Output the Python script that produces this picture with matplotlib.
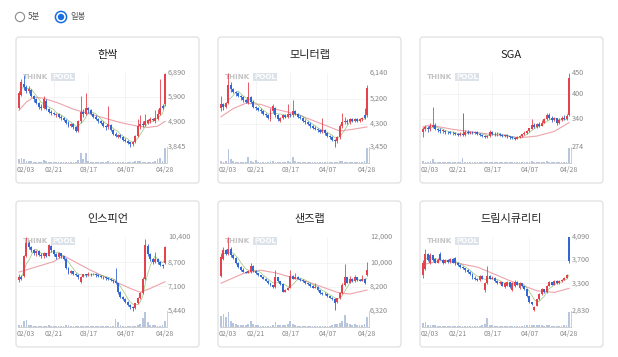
import numpy as np
import pandas as pd
import matplotlib.pyplot as plt
from matplotlib.patches import FancyBboxPatch, Circle
from matplotlib.transforms import blended_transform_factory

plt.rcParams['font.family'] = ['Noto Sans CJK KR', 'DejaVu Sans']

# ---- data ----
names = ['한싹', '모니터랩', 'SGA', '인스피언', '샌즈랩', '드림시큐리티']
date_labels = ['02/03', '02/21', '03/17', '04/07', '04/28']
date_pos = [0, 14, 28, 43, 59]

# 한싹
hansak_open = [5450,6000,6450,6300,6150,6200,5950,5800,5650,5500, 5450,5750,5400,5300,5250,5150,5200,5100,5050,4950,
               4850,4700,4800,4650,4500,4900,5300,5200,5450,5350, 5200,5100,5000,4900,4850,4700,4650,4750,4550,4400,
               4250,4350,4250,4150,4100,4050,3950,4050,4300,4700, 4800,4750,4850,4900,5000,4900,5000,5200,5550,5600]
hansak_close = [6050,6500,6300,6150,6250,5950,5800,5650,5500,5450, 5800,5400,5300,5250,5200,5200,5100,5050,4950,4850,
                4700,4800,4650,4500,4900,5300,5200,5450,5350,5200, 5100,5000,4900,4850,4700,4650,4800,4550,4400,4300,
                4350,4250,4150,4100,4000,3950,4050,4300,4700,4800, 4750,4900,4950,5000,4950,5050,5200,5450,5450,6850]
hansak_high = [6150,6650,6800,6400,6350,6250,6000,5850,5700,5600, 5950,5800,5450,5350,5300,5250,5250,5150,5100,5000,
               4900,4850,4850,4700,4950,5950,5400,6050,5500,5400, 5250,5150,5050,4950,4900,4750,5550,4800,4600,4450,
               4400,4400,4300,4200,4150,4050,4100,4350,5000,5150, 4900,5200,5000,5100,5050,5350,5400,6650,5600,6890]
hansak_low = [5400,5950,6200,6050,6050,5900,5700,5600,5400,5350, 5400,5350,5250,5150,5150,5100,5050,4950,4900,4800,
              4650,4650,4600,4450,4480,4850,5100,5150,5250,5150, 5050,4950,4850,4800,4650,4550,4600,4500,4350,4250,
              4200,4200,4100,4050,3950,3845,3900,4000,4250,4600, 4650,4700,4800,4850,4900,4850,4950,5150,5400,5550]
hansak_vol = [7,8,6,4,3,3,2,2,2,2, 5,3,2,2,2,1,2,1,1,1, 2,1,1,2,5,17,6,16,4,2,
              2,1,1,1,1,1,3,2,1,1, 1,1,1,1,1,2,2,3,4,3, 2,2,1,1,2,3,6,9,4,25]
hansak_ma_x = [0, 3, 6, 10, 16, 22, 27, 34, 41, 47, 52, 56, 59]
hansak_ma_y = [5350, 5700, 5900, 5850, 5650, 5400, 5250, 5050, 4850, 4720, 4650, 4700, 4900]
hansak_ticks = [6890, 5900, 4900, 3845]

# 모니터랩
monitor_open = [4850,5000,4900,5050,5700,5550,5450,5400,5300,5250, 5150,5050,5250,5100,4900,4850,4800,4750,4650,4600,
                4450,4750,4850,4600,4400,4500,4600,4550,4650,4600, 4750,4650,4550,4500,4400,4350,4300,4200,4150,4100,
                4050,4000,4050,3950,3850,3800,3700,3650,3800,4200, 4350,4400,4350,4450,4400,4450,4400,4450,4600,4600]
monitor_close = [5000,4900,5050,5700,5550,5450,5400,5300,5250,5150, 5100,5250,5100,4900,4850,4800,4750,4650,4600,4500,
                 4750,4950,4600,4450,4500,4600,4550,4650,4600,4750, 4650,4550,4500,4400,4350,4300,4200,4150,4100,4050,
                 4000,4050,3950,3850,3800,3700,3650,3800,4200,4350, 4400,4350,4450,4400,4450,4400,4450,4500,4500,5600]
monitor_high = [5300,5050,5100,6140,5800,5600,5500,5450,5350,5300, 5200,5800,5300,5150,4950,4900,4850,4800,4700,4650,
                4850,5000,4900,4650,4550,4650,4650,5000,4700,5150, 4800,4700,4600,4550,4450,4400,4350,4250,4200,4150,
                4100,4500,4100,4000,3900,3850,3750,3850,4300,4700, 4550,4450,4500,4500,4500,4500,4500,4550,4850,5700]
monitor_low = [4750,4800,4850,5000,5450,5400,5300,5250,5150,5100, 5050,5000,5050,4850,4800,4750,4700,4600,4550,4450,
               4400,4700,4550,4400,4350,4450,4500,4500,4550,4550, 4600,4500,4450,4350,4300,4250,4150,4100,4050,4000,
               3950,3950,3900,3800,3750,3650,3450,3600,3750,4150, 4300,4300,4300,4350,4350,4350,4350,4400,4450,4550]
monitor_vol = [3,2,3,22,6,3,2,2,2,1, 2,10,3,2,5,2,1,1,1,1, 3,3,2,1,1,1,1,3,2,10,
               3,2,1,1,1,1,1,1,1,1, 1,2,1,1,1,1,2,2,3,3, 2,1,1,1,1,1,1,1,3,24]
monitor_ma_x = [0, 5, 10, 16, 21, 31, 41, 48, 53, 59]
monitor_ma_y = [4550, 4850, 5040, 5000, 4850, 4630, 4280, 4030, 4090, 4180]
monitor_ticks = [6140, 5200, 4300, 3450]

# SGA
sga_open = [310,318,320,316,322,326,318,314,312,313, 310,309,307,308,305,303,306,302,310,308,
            310,307,309,306,303,300,298,300,310,306, 304,306,303,300,302,299,297,295,294,297,
            300,304,308,312,318,326,322,328,325,332, 340,350,344,338,342,330,338,343,340,350]
sga_close = [318,322,316,324,326,318,314,312,313,310, 309,307,308,305,303,306,302,310,308,310,
             307,309,306,303,300,298,300,310,306,304, 306,303,300,302,299,297,295,294,297,300,
             304,308,312,318,326,322,328,325,332,340, 350,344,338,342,330,338,343,340,348,438]
sga_high = [322,326,324,330,368,330,320,318,316,315, 313,312,311,310,308,310,354,314,314,313,
            312,312,311,308,305,303,302,314,312,309, 309,308,306,305,304,301,299,297,299,302,
            306,311,315,320,340,330,332,334,338,344, 354,356,348,346,344,342,348,350,352,450]
sga_low = [298,312,310,312,318,314,310,308,308,306, 305,304,303,302,300,300,300,300,304,305,
           304,304,302,300,297,295,295,298,303,300, 301,300,298,297,296,294,292,291,292,295,
           298,302,305,310,316,318,320,322,323,330, 338,340,334,336,326,328,335,338,338,348]
sga_vol = [3,2,2,3,8,2,1,1,1,1, 1,1,1,1,1,2,10,2,1,1, 1,1,1,1,1,1,1,2,1,1,
           1,1,1,1,1,1,1,1,1,1, 1,1,2,2,4,2,2,2,2,2, 3,2,2,1,2,1,1,1,2,30]
sga_ma_x = [0, 3, 12, 22, 35, 39, 46, 53, 59]
sga_ma_y = [322, 326, 316, 308, 299, 296, 300, 311, 332]
sga_ticks = [450, 400, 340, 274]

# 인스피언
inspien_open = [7500,7700,7800,9100,10000,9700,9500,9300,9450,9200, 9100,9300,9150,9800,9500,9250,9050,9300,9100,8950,
                8300,8000,8100,7950,7850,7400,7750,7900,7850,7950, 7900,7950,7850,7800,7750,7700,7650,7600,7550,7450,
                7300,6700,6400,6250,6050,5850,5700,5650,5950,6300, 6650,7600,9800,9250,8900,8700,8950,8700,8550,8650]
inspien_close = [7750,7600,9100,10000,9700,9500,9300,9450,9200,9100, 9300,9150,9850,9500,9250,9050,9300,9100,8950,8300,
                 8000,8100,7950,7850,7700,7750,7900,7850,7950,7900, 7950,7850,7800,7750,7700,7650,7600,7550,7450,7300,
                 6700,6400,6250,6050,5850,5700,5650,5950,6300,6650, 7600,9850,9250,8900,8700,8950,8700,8550,8450,9750]
inspien_high = [7900,7850,9200,10400,10100,9800,9600,9550,9500,9300, 9400,9350,9950,9850,9550,9300,9400,9350,9150,9000,
                8400,8200,8150,8000,7900,7800,7950,7950,8050,8000, 8000,8000,7900,7850,7800,7750,7700,7650,7600,8350,
                7350,6750,6450,6300,6100,5900,5750,6000,6350,6700, 7700,10250,9900,9350,9000,9400,9000,8800,8600,9800]
inspien_low = [7400,7500,7750,9050,9600,9400,9200,9150,9100,9000, 9000,9050,9100,9400,9150,8950,9000,9000,8850,8250,
               7900,7900,7850,7800,7600,7300,7700,7750,7800,7800, 7850,7750,7700,7650,7600,7550,7500,7450,7350,7250,
               6600,6300,6150,5950,5750,5600,5440,5600,5900,6250, 6600,7550,9150,8800,8600,8650,8600,8450,8350,8600]
inspien_vol = [4,3,10,12,4,3,2,2,2,1, 2,1,4,2,2,1,1,1,1,4, 3,1,1,1,2,2,1,1,1,1,
               1,1,1,1,1,1,1,1,2,13, 8,3,2,2,1,1,2,2,3,5, 16,26,8,4,3,3,2,2,3,10]
inspien_ma_x = [0, 14, 18, 28, 37, 45, 49, 53, 59]
inspien_ma_y = [8050, 8750, 9150, 8250, 7550, 6950, 6700, 6950, 7400]
inspien_ticks = [10400, 8700, 7100, 5440]

# 샌즈랩
sands_open = [9000,10300,11000,10700,11100,10600,10400,10000,9700,9500, 9350,9250,9300,9800,9400,9200,9050,8950,8800,8650,
              8450,8300,8150,8900,8600,8400,7800,7950,8100,9000, 8800,8950,8800,8700,8600,8450,8400,8250,8100,8200,
              7900,7700,7600,7650,7450,7350,7250,7000,7300,7700, 8300,8900,8500,8800,8600,8900,8700,8650,8800,9050]
sands_close = [10500,11000,10700,11100,10600,10400,10000,9700,9500,9350, 9250,9400,9800,9400,9200,9050,8950,8800,8650,8450,
               8300,8150,8900,8600,8400,7800,7950,8100,9000,8800, 8950,8800,8700,8600,8450,8400,8250,8100,8200,7900,
               7700,7600,7650,7450,7350,7250,6950,7300,7700,8300, 8900,8500,8800,8600,8900,8700,8650,8800,8450,9500]
sands_high = [10750,11200,11100,12000,11200,10700,10450,10050,9750,9600, 9400,9450,10000,9850,9450,9250,9100,9000,8850,8700,
              8500,8350,9500,8950,8650,8450,8000,8150,9500,9050, 9200,9000,8850,8750,8650,8500,8450,8300,8500,8250,
              7950,7750,7750,7700,7500,7400,7300,7350,7750,8500, 9900,8950,9000,8850,9100,8950,8750,9050,8850,10100]
sands_low = [8950,10200,10600,10650,10500,10300,9900,9600,9400,9300, 9200,9200,9250,9350,9150,9000,8900,8750,8600,8400,
             8250,8100,8100,8550,8350,7750,7750,7900,8050,8750, 8750,8750,8650,8550,8400,8350,8200,8050,8050,7850,
             7650,7550,7550,7400,7300,7200,6400,6950,7250,7650, 8250,8450,8450,8550,8550,8650,8600,8600,8400,9000]
sands_vol = [12,14,10,16,6,4,3,2,2,2, 2,3,6,3,2,2,1,1,1,1, 1,2,5,2,2,2,2,3,6,3,
             2,1,1,1,1,1,1,1,1,1, 1,1,1,1,1,2,3,3,4,6, 13,4,3,2,3,2,2,2,3,11]
sands_ma_x = [0, 9, 16, 22, 36, 47, 52, 59]
sands_ma_y = [8450, 9200, 9450, 9250, 8500, 7750, 7620, 7930]
sands_ticks = [12000, 10000, 8200, 6320]

# 드림시큐리티
dream_open = [3450,3550,3800,3650,3780,3720,3650,3800,3700,3650, 3700,3660,3720,3740,3640,3620,3580,3560,3520,3500,
              3460,3400,3380,3350,3420,3180,3300,3420,3380,3400, 3340,3300,3320,3240,3260,3320,3180,3250,3330,3220,
              3300,3250,3200,3080,2980,2850,2920,3030,3120,3200, 3150,3260,3320,3280,3340,3300,3340,3360,3400,4090]
dream_close = [3650,3800,3700,3780,3700,3650,3700,3700,3650,3700, 3660,3720,3650,3640,3620,3580,3560,3520,3500,3460,
               3400,3380,3360,3420,3380,3300,3420,3380,3400,3340, 3300,3320,3260,3300,3320,3240,3300,3330,3280,3300,
               3250,3200,3080,2980,2950,2900,3030,3120,3200,3150, 3260,3320,3280,3340,3300,3340,3360,3400,3440,3680]
dream_high = [3700,3880,3820,3820,3790,3740,3730,3830,3720,3720, 3710,3740,3730,3750,3660,3630,3600,3570,3540,3510,
              3470,3420,3400,3440,3440,3320,3600,3440,3420,3410, 3360,3340,3330,3320,3340,3330,3320,3350,3340,3320,
              3310,3260,3210,3090,2990,2920,3040,3130,3220,3210, 3270,3340,3330,3350,3350,3350,3370,3410,3460,4090]
dream_low = [3400,3520,3680,3630,3680,3640,3640,3690,3630,3640, 3640,3650,3640,3620,3600,3560,3540,3500,3480,3440,
             3380,3360,3340,3340,3370,3150,3290,3370,3370,3330, 3290,3290,3250,3230,3250,3230,3170,3240,3270,3210,
             3240,3190,3070,2970,2930,2830,2910,3020,3110,3140, 3140,3250,3270,3270,3290,3290,3330,3350,3390,3650]
dream_vol = [5,6,3,2,2,2,1,1,1,1, 1,1,1,1,1,1,1,1,1,1, 1,1,1,1,2,4,12,3,2,1,
             1,1,1,1,1,1,1,1,1,1, 1,2,2,3,2,3,2,2,2,1, 2,2,1,1,1,1,1,2,2,20]
dream_ma_x = [0, 8, 22, 35, 46, 53, 59]
dream_ma_y = [3620, 3694, 3578, 3348, 3175, 3146, 3215]
dream_ticks = [4090, 3700, 3300, 2830]

panels = [
    (hansak_open, hansak_close, hansak_high, hansak_low, hansak_vol, hansak_ma_x, hansak_ma_y, hansak_ticks),
    (monitor_open, monitor_close, monitor_high, monitor_low, monitor_vol, monitor_ma_x, monitor_ma_y, monitor_ticks),
    (sga_open, sga_close, sga_high, sga_low, sga_vol, sga_ma_x, sga_ma_y, sga_ticks),
    (inspien_open, inspien_close, inspien_high, inspien_low, inspien_vol, inspien_ma_x, inspien_ma_y, inspien_ticks),
    (sands_open, sands_close, sands_high, sands_low, sands_vol, sands_ma_x, sands_ma_y, sands_ticks),
    (dream_open, dream_close, dream_high, dream_low, dream_vol, dream_ma_x, dream_ma_y, dream_ticks),
]

RED = '#e4424d'
BLUE = '#3067d2'
W, H = 618, 357


def rect(x, y, w, h):
    # pixel box (top-left origin) -> figure fraction
    return [x / W, 1 - (y + h) / H, w / W, h / H]


fig = plt.figure(figsize=(W / 100, H / 100), dpi=100)
bg = fig.add_axes([0, 0, 1, 1])
bg.set_xlim(0, W)
bg.set_ylim(H, 0)
bg.axis('off')

# radio buttons
bg.add_patch(Circle((20, 17), 4.6, fc='white', ec='#8c8c8c', lw=0.8))
bg.text(28, 17, '5분', fontsize=6, color='#555555', va='center', ha='left')
bg.add_patch(Circle((61, 17), 5.6, fc='white', ec='#1a6fe0', lw=1.1))
bg.add_patch(Circle((61, 17), 3.2, fc='#1a6fe0', ec='none'))
bg.text(70, 17, '일봉', fontsize=6, color='#555555', va='center', ha='left')

for k, (name, data) in enumerate(zip(names, panels)):
    o, c, hi_, lo_, vol, ma_x, ma_y, ticks = [np.array(d) for d in data]
    r, col = divmod(k, 3)
    left = 16 + 202 * col
    top = 37 + 164 * r

    bg.add_patch(FancyBboxPatch((left, top), 183, 146, boxstyle='round,pad=0,rounding_size=3',
                                fc='white', ec='#dcdcdc', lw=0.8, zorder=1))
    bg.text(left + 91.5, top + 18, name, fontsize=8, color='#222222', ha='center', va='center', zorder=2)
    # THINKPOOL watermark
    bg.text(left + 7, top + 40, 'THINK', fontsize=5.2, fontweight='bold', color='#c4c4c4',
            family='DejaVu Sans', va='center', ha='left', zorder=2)
    bg.text(left + 36, top + 40, 'POOL', fontsize=5.2, fontweight='bold', color='white',
            family='DejaVu Sans', va='center', ha='left', zorder=2,
            bbox=dict(boxstyle='square,pad=0.2', fc='#dbe2ea', ec='none'))

    lo, hi = ticks[-1], ticks[0]
    idx = np.arange(len(o))

    ax = fig.add_axes(rect(left + 1.5, top + 36, 149, 74))
    ax.set_xlim(-0.6, len(o) - 0.4)
    ax.set_ylim(lo, hi)
    ax.axis('off')
    ax.patch.set_visible(False)

    for t in ticks[1:-1]:
        ax.axhline(t, color='#f0f0f0', lw=0.5, zorder=0)
    for d in date_pos[1:-1]:
        ax.axvline(d, color='#f0f0f0', lw=0.5, zorder=0)
    ax.axhline(lo, color='#c8c8c8', lw=0.6, zorder=0)

    colors = np.where(c >= o, RED, BLUE)
    ax.vlines(idx, lo_, hi_, colors=colors, lw=0.6, zorder=2, clip_on=False)
    body = np.maximum(np.abs(c - o), (hi - lo) * 0.008)
    ax.bar(idx, body, bottom=np.minimum(o, c), width=0.78, color=colors, lw=0, zorder=3, clip_on=False)

    ax.plot(ma_x, ma_y, color='#eea3ab', lw=0.8, zorder=1)
    ma5 = pd.Series(c).rolling(5, min_periods=1).mean()
    ax.plot(idx, ma5, color='#7db65a', lw=0.5, alpha=0.8, zorder=1)

    for t in ticks:
        ax.text(len(o) + 0.25, t, f'{t:,}', fontsize=5.2, color='#888888', va='center', ha='left', clip_on=False)

    axv = fig.add_axes(rect(left + 1.5, top + 110, 149, 16))
    axv.set_xlim(-0.6, len(o) - 0.4)
    axv.set_ylim(0, vol.max() * 1.05)
    axv.patch.set_visible(False)
    for s in ['top', 'left']:
        axv.spines[s].set_visible(False)
    for s in ['bottom', 'right']:
        axv.spines[s].set_color('#c8c8c8')
        axv.spines[s].set_linewidth(0.6)
    axv.set_xticks([])
    axv.set_yticks([])
    for d in date_pos[1:-1]:
        axv.axvline(d, color='#f0f0f0', lw=0.5, zorder=0)
    axv.bar(idx, vol, width=0.72, color='#b7c5df', lw=0)

    tr = blended_transform_factory(axv.transData, axv.transAxes)
    for j, (d, lab) in enumerate(zip(date_pos, date_labels)):
        if j == 0:
            axv.text(-1.0, -0.45, lab, transform=tr, fontsize=5, color='#888888', ha='left', va='center')
        else:
            axv.text(d, -0.45, lab, transform=tr, fontsize=5, color='#888888', ha='center', va='center')

plt.savefig('out.png', dpi=100)
